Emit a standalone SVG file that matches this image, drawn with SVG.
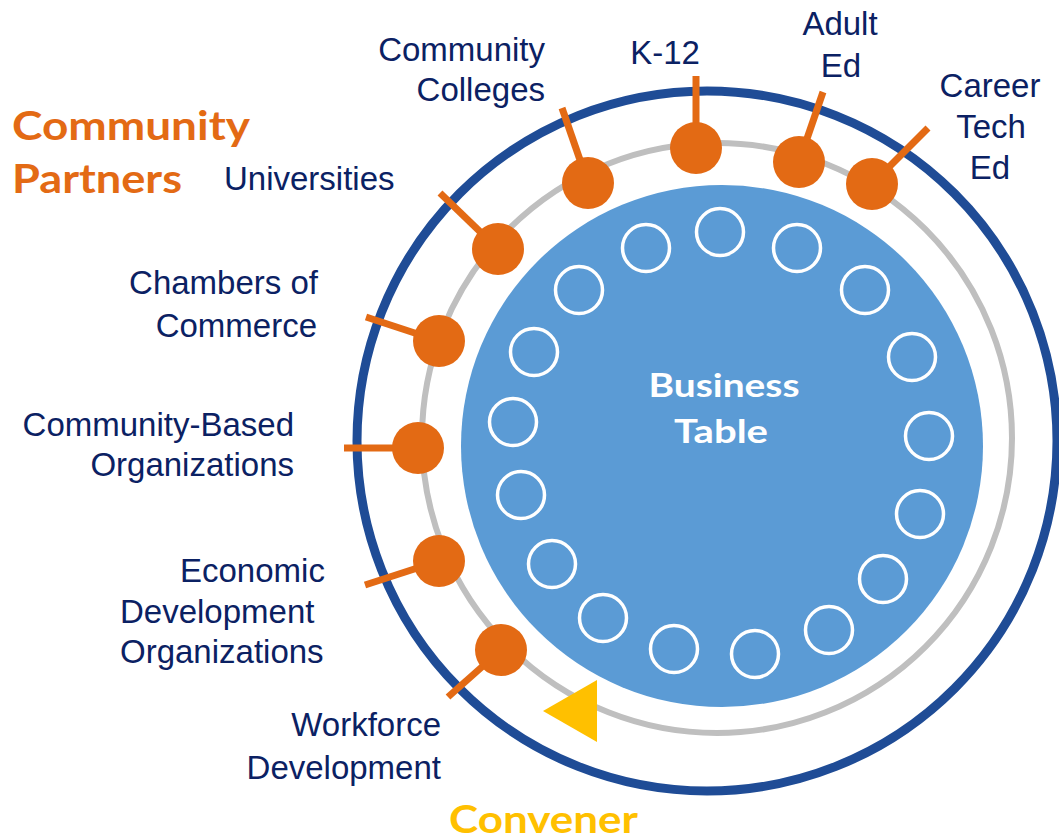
<svg xmlns="http://www.w3.org/2000/svg" width="1059" height="840" viewBox="0 0 1059 840">
<style>
.lbl{font-family:"Liberation Sans",Arial,sans-serif;font-size:33px;fill:#0B2163}
.ttl{font-family:Lato,"Open Sans",sans-serif;font-weight:700}
.dot{fill:#E36A14}
.seat{fill:none;stroke:#FFFFFF;stroke-width:3.5}
.con{stroke:#E36A14;stroke-width:7;stroke-linecap:butt;fill:none}
</style>
<rect width="1059" height="840" fill="#FFFFFF"/>
<g id="rings">
<circle cx="707" cy="441" r="350" fill="none" stroke="#1F4C96" stroke-width="9"/>
<circle cx="717" cy="438" r="295" fill="none" stroke="#BFBFBF" stroke-width="6"/>
</g>
<g id="business-table">
<circle cx="722" cy="446" r="261" fill="#5B9BD5"/>
<g id="seats">
<circle class="seat" cx="720" cy="232" r="23.5"/>
<circle class="seat" cx="797" cy="248" r="23.5"/>
<circle class="seat" cx="865" cy="290" r="23.5"/>
<circle class="seat" cx="912" cy="357" r="23.5"/>
<circle class="seat" cx="929" cy="436" r="23.5"/>
<circle class="seat" cx="920" cy="514" r="23.5"/>
<circle class="seat" cx="883" cy="579" r="23.5"/>
<circle class="seat" cx="829" cy="630" r="23.5"/>
<circle class="seat" cx="755" cy="654" r="23.5"/>
<circle class="seat" cx="674" cy="649" r="23.5"/>
<circle class="seat" cx="603" cy="618" r="23.5"/>
<circle class="seat" cx="552" cy="564" r="23.5"/>
<circle class="seat" cx="521" cy="495" r="23.5"/>
<circle class="seat" cx="513" cy="422" r="23.5"/>
<circle class="seat" cx="534" cy="352" r="23.5"/>
<circle class="seat" cx="579" cy="290" r="23.5"/>
<circle class="seat" cx="646" cy="248" r="23.5"/>
</g>
<text class="ttl" x="724" y="397" font-size="33" fill="#FFFFFF" text-anchor="middle" textLength="151" lengthAdjust="spacingAndGlyphs">Business</text>
<text class="ttl" x="721" y="443" font-size="33" fill="#FFFFFF" text-anchor="middle" textLength="94" lengthAdjust="spacingAndGlyphs">Table</text>
</g>
<g id="connectors">
<line class="con" x1="696" y1="148" x2="696" y2="76"/>
<line class="con" x1="799" y1="162" x2="823" y2="92"/>
<line class="con" x1="872" y1="184" x2="928" y2="128"/>
<line class="con" x1="588" y1="183" x2="562" y2="108"/>
<line class="con" x1="498" y1="249" x2="440" y2="193"/>
<line class="con" x1="439" y1="341" x2="366" y2="317"/>
<line class="con" x1="418" y1="448" x2="344" y2="448"/>
<line class="con" x1="439" y1="561" x2="365" y2="585"/>
<line class="con" x1="501" y1="650" x2="448" y2="697"/>
</g>
<g id="k12"><circle class="dot" cx="696" cy="148" r="26"/><text class="lbl" x="665" y="64" text-anchor="middle">K-12</text></g>
<g id="adult-ed"><circle class="dot" cx="799" cy="162" r="26"/><text class="lbl" x="840" y="35" text-anchor="middle">Adult</text><text class="lbl" x="841" y="77" text-anchor="middle">Ed</text></g>
<g id="career-tech-ed"><circle class="dot" cx="872" cy="184" r="26"/><text class="lbl" x="990" y="97" text-anchor="middle">Career</text><text class="lbl" x="991" y="138" text-anchor="middle">Tech</text><text class="lbl" x="990" y="179" text-anchor="middle">Ed</text></g>
<g id="community-colleges"><circle class="dot" cx="588" cy="183" r="26"/><text class="lbl" x="545" y="61" text-anchor="end">Community</text><text class="lbl" x="545" y="101" text-anchor="end">Colleges</text></g>
<g id="universities"><circle class="dot" cx="498" cy="249" r="26"/><text class="lbl" x="224" y="190">Universities</text></g>
<g id="chambers"><circle class="dot" cx="439" cy="341" r="26"/><text class="lbl" x="318" y="294" text-anchor="end">Chambers of</text><text class="lbl" x="317" y="337" text-anchor="end">Commerce</text></g>
<g id="cbo"><circle class="dot" cx="418" cy="448" r="26"/><text class="lbl" x="294" y="436" text-anchor="end">Community-Based</text><text class="lbl" x="294" y="476" text-anchor="end">Organizations</text></g>
<g id="edo"><circle class="dot" cx="439" cy="561" r="26"/><text class="lbl" x="180" y="582">Economic</text><text class="lbl" x="120" y="623">Development</text><text class="lbl" x="120" y="663">Organizations</text></g>
<g id="workforce"><circle class="dot" cx="501" cy="650" r="26"/><text class="lbl" x="441" y="736" text-anchor="end">Workforce</text><text class="lbl" x="441" y="779" text-anchor="end">Development</text></g>
<g id="convener">
<polygon points="543,711 597,680 597,742" fill="#FFC000"/>
<text class="ttl" x="449" y="833" font-size="39" fill="#FFC000" textLength="189" lengthAdjust="spacingAndGlyphs">Convener</text>
</g>
<g id="community-partners">
<text class="ttl" x="12" y="140" font-size="41" fill="#E36A14" textLength="238" lengthAdjust="spacingAndGlyphs">Community</text>
<text class="ttl" x="12" y="193" font-size="41" fill="#E36A14" textLength="170" lengthAdjust="spacingAndGlyphs">Partners</text>
</g>
</svg>
